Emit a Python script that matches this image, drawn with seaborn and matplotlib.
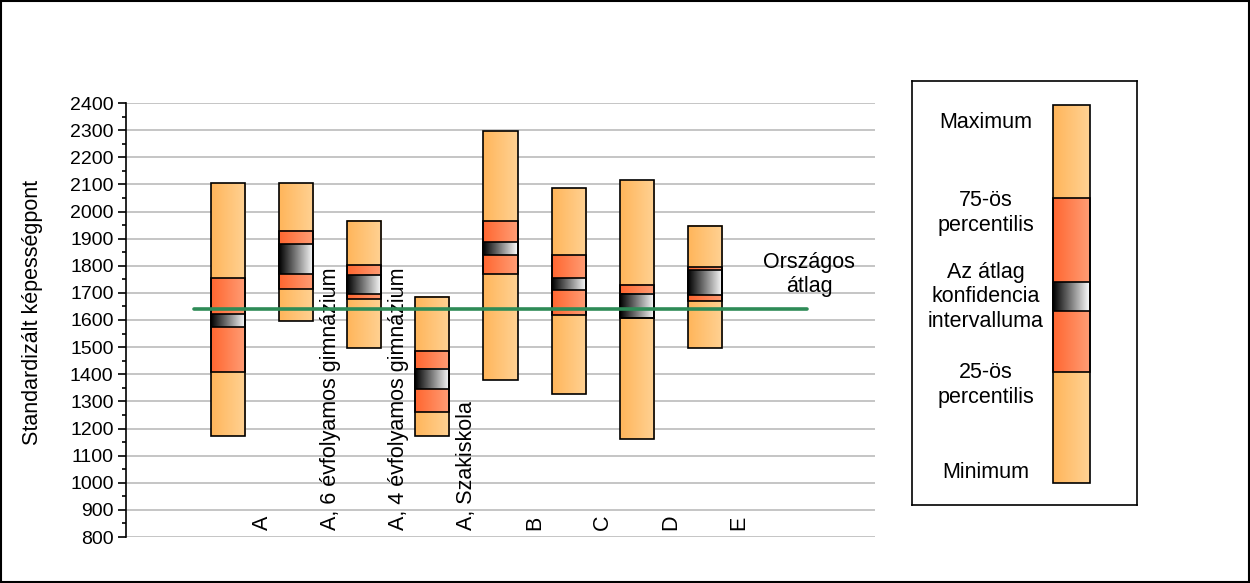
import numpy as np
import pandas as pd
import matplotlib
matplotlib.use("Agg")
import matplotlib.pyplot as plt
from matplotlib.colors import LinearSegmentedColormap
from matplotlib.patches import Rectangle
from matplotlib.ticker import MultipleLocator
import seaborn as sns

# ---- data ----
categories = ["A", "A, 6 évfolyamos gimnázium", "A, 4 évfolyamos gimnázium",
              "A, Szakiskola", "B", "C", "D", "E"]
minimum = [1172, 1598, 1496, 1172, 1380, 1329, 1163, 1496]
p25     = [1410, 1715, 1679, 1259, 1771, 1620, 1607, 1671]
ci_low  = [1576, 1771, 1697, 1347, 1841, 1712, 1607, 1693]
ci_high = [1623, 1881, 1767, 1421, 1888, 1756, 1697, 1785]
p75     = [1754, 1929, 1804, 1484, 1966, 1838, 1730, 1796]
maximum = [2104, 2104, 1966, 1686, 2297, 2087, 2117, 1947]
national_mean = 1640
y_ticks = list(range(800, 2401, 100))
legend_labels = ["Maximum", "75-ös\npercentilis", "Az átlag\nkonfidencia\nintervalluma",
                 "25-ös\npercentilis", "Minimum"]
# legend sample bar (in legend-box coordinates)
legend_sample = dict(minimum=483, p25=372, ci_low=311, ci_high=282, p75=198, maximum=105)

df = pd.DataFrame(dict(cat=categories, mn=minimum, q25=p25, cil=ci_low,
                       cih=ci_high, q75=p75, mx=maximum))

sns.set_theme(style="white")
plt.rcParams["font.family"] = ["Liberation Sans", "DejaVu Sans"]
plt.rcParams["text.color"] = "black"
plt.rcParams["ytick.color"] = "black"
plt.rcParams["ytick.labelcolor"] = "black"

orange = LinearSegmentedColormap.from_list("o", ["#FFB55A", "#FFD294"])
red = LinearSegmentedColormap.from_list("r", ["#FF6630", "#FF9E76"])
ci = LinearSegmentedColormap.from_list("c", ["#000000", "#FFFFFF"])
grad = np.linspace(0, 1, 256).reshape(1, -1)

fig = plt.figure(figsize=(12.5, 5.83), dpi=100)
ax = fig.add_axes([126 / 1250, 46 / 583, 749 / 1250, 434 / 583])

W = 0.5
def gbar(a, x0, x1, lo, hi, cmap):
    if hi <= lo:
        return
    a.imshow(grad, extent=[x0, x1, lo, hi], aspect="auto", cmap=cmap,
             interpolation="bilinear", zorder=2)

xs = np.arange(len(categories))
for i, r in df.iterrows():
    x0, x1 = i - W / 2, i + W / 2
    gbar(ax, x0, x1, r.mn, r.mx, orange)
    gbar(ax, x0, x1, r.q25, r.q75, red)
    gbar(ax, x0, x1, r.cil, r.cih, ci)

for lo, hi in [("mn", "mx"), ("q25", "q75"), ("cil", "cih")]:
    ax.bar(xs, df[hi] - df[lo], bottom=df[lo], width=W, fill=False,
           edgecolor="black", linewidth=1.2, zorder=3)

line_df = pd.DataFrame(dict(x=[-0.5, 8.5], y=[national_mean, national_mean]))
sns.lineplot(data=line_df, x="x", y="y", ax=ax, color="#2E8B57", linewidth=2.6,
             zorder=4, legend=False)
ax.text(8.53, 1768, "Országos\nátlag", ha="center", va="center", fontsize=15.5,
        linespacing=1.2, color="black")

for i, c in enumerate(categories):
    ax.text(i + 0.5, 826, c, rotation=90, ha="center", va="bottom", fontsize=15.5,
            color="black")

ax.set_xlim(-1.5, 9.5)
ax.set_ylim(800, 2400)
ax.set_yticks(y_ticks)
ax.yaxis.set_minor_locator(MultipleLocator(50))
ax.set_xticks([])
ax.grid(axis="y", color="#BBBBBB", linewidth=1.2, zorder=0)
ax.set_axisbelow(True)
for s in ["top", "right", "bottom"]:
    ax.spines[s].set_visible(False)
ax.spines["left"].set_color("black")
ax.spines["left"].set_linewidth(1.2)
ax.tick_params(axis="y", which="major", left=True, length=6, width=1.2,
               color="black", labelcolor="black", labelsize=14, pad=3)
ax.tick_params(axis="y", which="minor", left=True, length=3, width=1.2, color="black")
ax.set_xlabel("")
ax.set_ylabel("")
fig.text(33 / 1250, 1 - 312 / 583, "Standardizált képességpont", rotation=90,
         ha="center", va="center", fontsize=15.5, color="black")

# ---- legend box ----
lax = fig.add_axes([912 / 1250, 1 - 505 / 583, 225 / 1250, 424 / 583])
lax.set_xlim(912, 1137)
lax.set_ylim(505, 81)
lax.set_xticks([]); lax.set_yticks([])
for s in lax.spines.values():
    s.set_visible(True); s.set_color("black"); s.set_linewidth(1.2)
L = legend_sample
gbar(lax, 1053, 1090, L["maximum"], L["minimum"], orange)
gbar(lax, 1053, 1090, L["p75"], L["p25"], red)
gbar(lax, 1053, 1090, L["ci_high"], L["ci_low"], ci)
lax.set_xlim(912, 1137); lax.set_ylim(505, 81)
for lo, hi in [("maximum", "minimum"), ("p75", "p25"), ("ci_high", "ci_low")]:
    lax.add_patch(Rectangle((1053, L[lo]), 37, L[hi] - L[lo], fill=False,
                            edgecolor="black", linewidth=1.2, zorder=3))
for txt, y in zip(legend_labels, [123, 213, 297, 385, 472]):
    lax.text(986, y, txt, ha="center", va="center", fontsize=15.5, linespacing=1.2,
             color="black")

fig.patches.append(Rectangle((0.0005, 0.001), 0.999, 0.998, transform=fig.transFigure,
                             fill=False, edgecolor="black", linewidth=1.5))
fig.savefig("out.png", dpi=100)
